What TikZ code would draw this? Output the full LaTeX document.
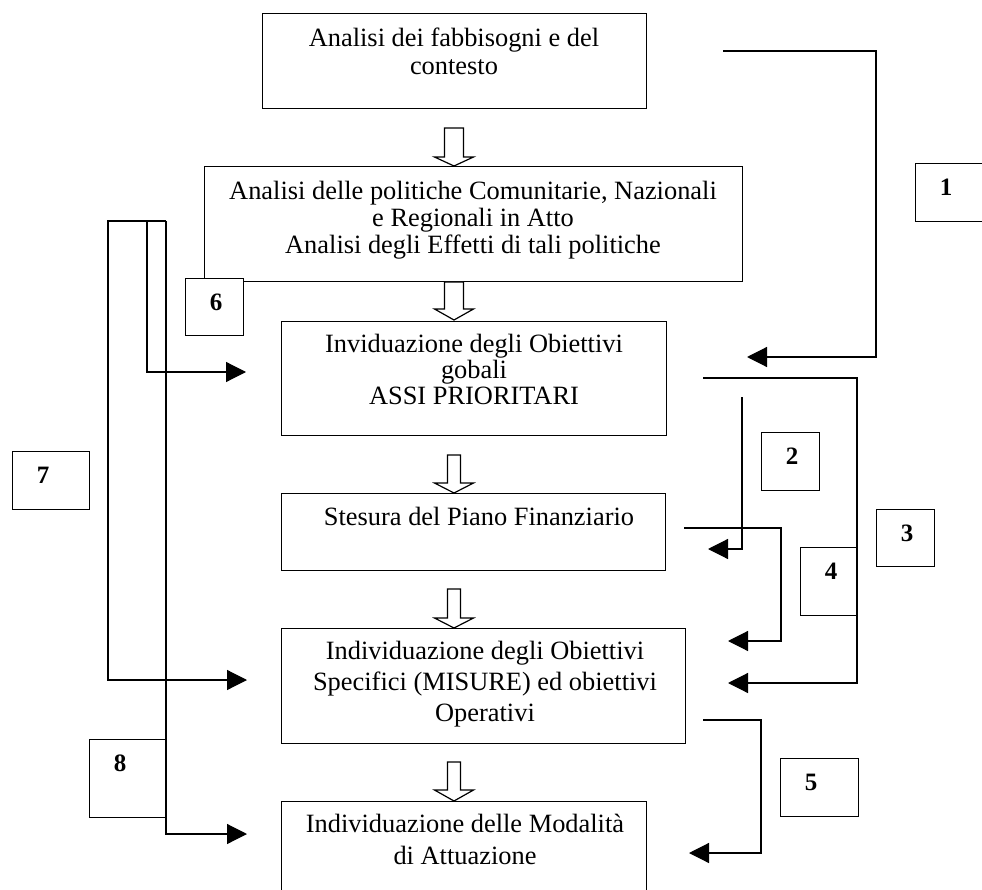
\documentclass[tikz,border=0pt]{standalone}
\usepackage{fontspec}
\setmainfont{Liberation Serif}
\usetikzlibrary{arrows.meta}
\newcommand{\harrow}[5]{%
  \draw[hollow] ({#1-#5/2},#2) -- ({#1-#5/2},#3) -- ({#1-19.5},#3) -- (#1,#4)
    -- ({#1+19.5},#3) -- ({#1+#5/2},#3) -- ({#1+#5/2},#2) -- cycle;}
\begin{document}
\begin{tikzpicture}[x=1pt,y=-1pt,
  box/.style={draw, line width=1.2pt, fill=white, inner sep=0pt, anchor=north west},
  txt/.style={font=\fontsize{26.4}{#1}\selectfont, align=center, inner sep=0pt, anchor=north},
  num/.style={font=\fontsize{25}{30}\selectfont\bfseries, inner sep=0pt},
  conn/.style={line width=1.2pt},
  arr/.style={line width=1.2pt, -{Triangle[length=20pt,width=20pt]}},
  hollow/.style={draw, line width=1.2pt, fill=white}]
\useasboundingbox (0,0) rectangle (982,890);
\clip (0,0) rectangle (982,890);
\fill[white] (0,0) rectangle (982,890);

% main boxes
\node[box, minimum width=384pt, minimum height=95pt] (A) at (262,13) {};
\node[box, minimum width=538pt, minimum height=115pt] (B) at (204,166) {};
\node[box, minimum width=385pt, minimum height=114pt] (C) at (281,321) {};
\node[box, minimum width=384pt, minimum height=77pt] (D) at (281,493) {};
\node[box, minimum width=404pt, minimum height=115pt] (E) at (281,628) {};
\node[box, minimum width=365pt, minimum height=99pt] (F) at (281,801) {};

% texts
\node[txt=28] (tA) at (454,28) {Analisi dei fabbisogni e del\\contesto};
\node[txt=27] (tB) at (473,181) {Analisi delle politiche Comunitarie, Nazionali\\e Regionali in Atto\\Analisi degli Effetti di tali politiche};
\node[txt=26] (tC) at (474,334) {Inviduazione degli Obiettivi\\gobali\\ASSI PRIORITARI};
\node[txt=28] (tD) at (479,507) {Stesura del Piano Finanziario};
\node[txt=31] (tE) at (485,641) {Individuazione degli Obiettivi\\Specifici (MISURE) ed obiettivi\\Operativi};
\node[txt=32] (tF) at (465,814) {Individuazione delle Modalità\\di Attuazione};

% number boxes
\node[box, minimum width=85pt, minimum height=58pt] (n1) at (915,163) {};
\node[box, minimum width=58pt, minimum height=58pt] (n2) at (761,432) {};
\node[box, minimum width=58pt, minimum height=57pt] (n3) at (876,509) {};
\node[box, minimum width=57pt, minimum height=68pt] (n4) at (800,547) {};
\node[box, minimum width=78pt, minimum height=58pt] (n5) at (780,758) {};
\node[box, minimum width=58pt, minimum height=57pt] (n6) at (185,278) {};
\node[box, minimum width=77pt, minimum height=58pt] (n7) at (12,451) {};
\node[box, minimum width=77pt, minimum height=78pt] (n8) at (89,739) {};
\node[num] (l1) at (946,187) {1};
\node[num] (l2) at (792,456) {2};
\node[num] (l3) at (907,533) {3};
\node[num] (l4) at (831,571) {4};
\node[num] (l5) at (811,782) {5};
\node[num] (l6) at (216,302) {6};
\node[num] (l7) at (43,475) {7};
\node[num] (l8) at (120,763) {8};

% hollow arrows
\harrow{454}{128}{157}{166}{19}
\harrow{454}{282}{309}{320}{19}
\harrow{454}{455}{483}{493}{13}
\harrow{454}{589}{618}{628}{13}
\harrow{454}{762}{790}{801}{13}

% right connectors
\coordinate (s1) at (723,51); \coordinate (k1) at (876,51); \coordinate (t1) at (747,357);
\coordinate (s2) at (742,397); \coordinate (t2) at (708,549);
\coordinate (s3) at (703,378); \coordinate (k3) at (857,378); \coordinate (t3) at (728,683);
\coordinate (s4) at (684,528); \coordinate (k4) at (781,528); \coordinate (t4) at (728,641);
\coordinate (s5) at (703,720); \coordinate (k5) at (761,720); \coordinate (t5) at (689,853);
\draw[arr] (s1) -- (k1) |- (t1);
\draw[arr] (s2) |- (t2);
\draw[arr] (s3) -- (k3) |- (t3);
\draw[arr] (s4) -- (k4) |- (t4);
\draw[arr] (s5) -- (k5) |- (t5);

% left connectors
\coordinate (p7a) at (166,221); \coordinate (p7b) at (108,221); \coordinate (p7c) at (147,221);
\coordinate (t7E) at (247,680); \coordinate (t7C) at (246,372); \coordinate (t8F) at (247,834);
\draw[arr] (p7a) -- (p7b) |- (t7E);
\draw[arr] (p7c) |- (t7C);
\draw[arr] (p7a) |- (t8F);
\end{tikzpicture}
\end{document}
